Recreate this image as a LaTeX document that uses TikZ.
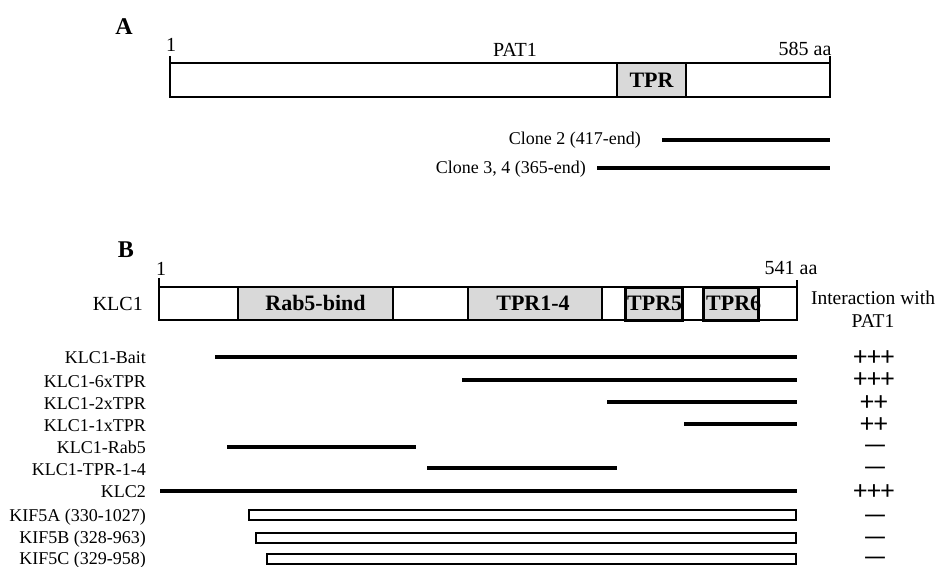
\documentclass[tikz,border=0pt]{standalone}
\usepackage{fontspec}
\setmainfont{Liberation Serif}
\newfontfamily\symfont{Carlito}
\usepackage{tikz}
\usetikzlibrary{positioning}
\definecolor{domgray}{HTML}{D9D9D9}

\begin{document}
\begin{tikzpicture}[x=1pt, y=-1pt,
  bar/.style={draw=black, line width=2.2pt, fill=white},
  dom/.style={draw=black, line width=2.2pt, fill=domgray},
  tprdom/.style={draw=black, line width=3pt, fill=domgray},
  tick/.style={draw=black, line width=2.2pt},
  cons/.style={draw=black, line width=4.5pt},
  kif/.style={draw=black, line width=2pt, fill=white},
  panel/.style={font=\fontsize{24}{26}\selectfont\bfseries, inner sep=0pt},
  domlbl/.style={font=\fontsize{22}{24}\selectfont\bfseries, inner sep=0pt,
                 text height=14.5pt, text depth=0pt},
  title/.style={font=\fontsize{20}{23}\selectfont, inner sep=0pt, anchor=base},
  txt/.style={font=\fontsize{18}{21}\selectfont, inner sep=0pt,
              text height=12pt, text depth=0pt, anchor=east},
  sym/.style={font=\fontsize{27}{28}\selectfont\symfont, inner sep=0pt,
              text height=14pt, text depth=0pt}
]
\useasboundingbox (0,0) rectangle (937,567);

% panel A
\node[panel] (pa) at (124,27) {A};
\draw[bar] (170,63) rectangle (830,97);
\draw[dom] (617,63) rectangle (686,97);
\node[domlbl] (tprA) at (651.5,80) {TPR};
\draw[tick] (170,56) -- (170,64);
\draw[tick] (830,56) -- (830,64);
\node[title] (startA) at (171,52) {1};
\node[title] (pat1) at (515,57) {PAT1};
\node[title] (endA) at (805,56) {585 aa};

\node[txt] (clone2) at (641,139) {Clone 2 (417-end)};
\node[txt] (clone34) at (586,168) {Clone 3, 4 (365-end)};
\draw[cons] (662,140) -- (830,140);
\draw[cons] (597,168) -- (830,168);

% panel B
\node[panel] (pb) at (126,250) {B};
\draw[bar] (159,287) rectangle (797,320);
\draw[dom] (238,287) rectangle (393,320);
\draw[dom] (468,287) rectangle (602,320);
\draw[tprdom] (625,287) rectangle (682,320);
\draw[tprdom] (703,287) rectangle (758,320);
\node[domlbl] (rab) at (315.5,303.5) {Rab5-bind};
\node[domlbl] (tpr14) at (533,303.5) {TPR1-4};
\node[domlbl, anchor=west] (tpr5) at (627,303.5) {TPR5};
\node[domlbl, anchor=west] (tpr6) at (706,303.5) {TPR6};
\draw[tick] (159,278) -- (159,288);
\draw[tick] (797,280) -- (797,288);
\node[title] (startB) at (161,275) {1};
\node[title] (endB) at (791,274) {541 aa};
\node[txt, font=\fontsize{20}{23}\selectfont, text height=13pt] (klc1) at (143,304) {KLC1};
\node[font=\fontsize{19.5}{23}\selectfont, align=center, inner sep=0pt] (inter) at (873,309) {Interaction with\\PAT1};

% constructs
\node[txt] (bait) at (146,357) {KLC1-Bait};
\node[txt] (tpr6x) at (146,381) {KLC1-6xTPR};
\node[txt] (tpr2x) at (146,403) {KLC1-2xTPR};
\node[txt] (tpr1x) at (146,425) {KLC1-1xTPR};
\node[txt] (rab5) at (146,447) {KLC1-Rab5};
\node[txt] (tprfour) at (146,469) {KLC1-TPR-1-4};
\node[txt] (klc2) at (146,491) {KLC2};
\node[txt] (kif5a) at (146,515) {KIF5A (330-1027)};
\node[txt] (kif5b) at (146,537) {KIF5B (328-963)};
\node[txt] (kif5c) at (146,558) {KIF5C (329-958)};

\draw[cons] (215,357) -- (797,357);
\draw[cons] (462,380) -- (797,380);
\draw[cons] (607,402) -- (797,402);
\draw[cons] (684,424) -- (797,424);
\draw[cons] (227,447) -- (416,447);
\draw[cons] (427,468) -- (617,468);
\draw[cons] (160,491) -- (797,491);
\draw[kif] (249,510) rectangle (796,520);
\draw[kif] (256,532.5) rectangle (796,542.5);
\draw[kif] (267,553.5) rectangle (796,563.5);

% interaction
\node[sym] (i1) at (874,358) {+++};
\node[sym] (i2) at (874,380) {+++};
\node[sym] (i3) at (874,403) {++};
\node[sym] (i4) at (874,425) {++};
\node[sym] (i5) at (875,446) {—};
\node[sym] (i6) at (875,468) {—};
\node[sym] (i7) at (874,492) {+++};
\node[sym] (i8) at (875,516) {—};
\node[sym] (i9) at (875,538) {—};
\node[sym] (i10) at (875,558) {—};
\end{tikzpicture}
\end{document}
